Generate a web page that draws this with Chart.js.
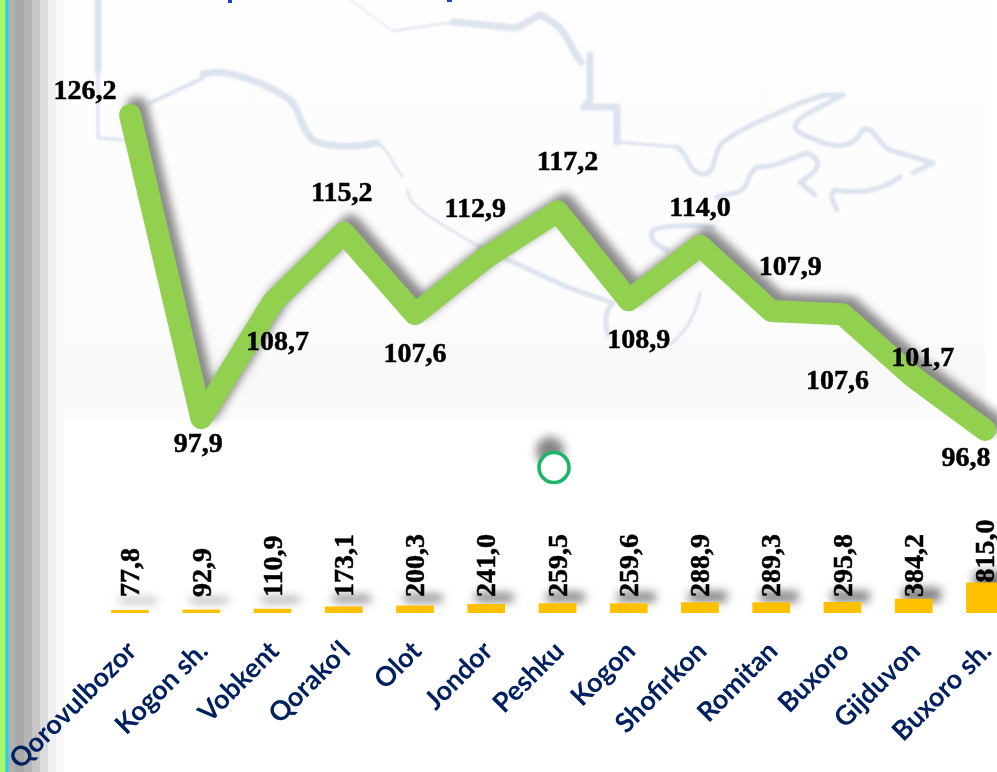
<!DOCTYPE html>
<html>
<head>
<meta charset="utf-8">
<script src="https://cdn.jsdelivr.net/npm/chart.js@4"></script>
<style>
html,body{margin:0;padding:0;width:997px;height:772px;overflow:hidden;background:#fff}
#stage{position:relative;width:997px;height:772px;overflow:hidden}
#panel{position:absolute;left:0;top:0;width:985px;height:421px;background:linear-gradient(180deg,#fdfdfe 0,#fcfcfd 320px,#f8f8f9 370px,#fbfbfb 421px)}
#strip{position:absolute;left:0;top:0;width:64px;height:772px;background:linear-gradient(90deg,#a6f56a 0,#a6f56a 5px,#22d3e8 6px,#22d3e8 8px,#a9b4b8 9px,#b0b0b0 10px,#b0b0b0 15px,#a8a8a8 15px,#a8a8a8 24px,#b4b4b4 24px,#b4b4b4 32px,#c6c6c6 32px,#c6c6c6 40px,#dcdcdc 40px,#dcdcdc 48px,#f0f0f0 48px,#f0f0f0 56px,#fafafa 56px,#fafafa 64px)}
svg{position:absolute;left:0;top:0}
canvas{position:absolute;left:0;top:0}
</style>
</head>
<body>
<div id="stage">
<div id="panel"></div>
<div id="strip"></div>
<svg width="997" height="772" viewBox="0 0 997 772" fill="none" stroke-linecap="round" stroke-linejoin="round">
<defs><filter id="b" x="-60%" y="-60%" width="220%" height="220%"><feGaussianBlur stdDeviation="5"/></filter>
<filter id="s"><feGaussianBlur stdDeviation="1"/></filter>
<filter id="t"><feGaussianBlur stdDeviation="0.6"/></filter></defs>
<g stroke="#dbe3ee" filter="url(#s)">
<path d="M98 0V70" stroke-width="7"/>
<path d="M98 70V138L127 140" stroke-width="3"/>
<path d="M150 103L203 78" stroke-width="4"/>
<path d="M203 74L217 72C240 74 270 85 290 100C302 112 298 125 313 140C325 147 350 148 377 143" stroke-width="7"/>
<path d="M377 143C388 148 392 165 403 177M407 190C410 205 420 212 480 247" stroke-width="2.5"/>
<path d="M480 247L567 287L613 303C604 312 605 325 608 335" stroke-width="5"/>
<path d="M350 0L393 31" stroke-width="1.5"/>
<path d="M393 31L454 22" stroke-width="2"/>
<path d="M454 22L516 28L540 15C555 22 565 30 572 48L581 62" stroke-width="7"/>
<path d="M590 55V100L584 107H617V142" stroke-width="7"/>
<path d="M617 142L677 147" stroke-width="3"/>
<path d="M677 147C690 155 688 175 705 174C716 172 712 155 722 143C740 128 775 115 800 103L825 95L843 95L805 115C790 125 792 132 812 138C835 150 855 148 862 130C875 125 875 142 890 150L933 163L913 173" stroke-width="5"/>
<path d="M807 153C790 158 775 168 757 167C745 175 750 188 738 192L717 197" stroke-width="5"/>
<path d="M807 153C825 160 818 172 800 182L815 195" stroke-width="5"/>
<path d="M900 177C885 188 865 195 835 190C828 195 835 205 837 210" stroke-width="5"/>
<path d="M713 227C690 225 665 225 653 230C648 238 655 245 667 250" stroke-width="5"/>
<path d="M700 293C695 318 685 332 670 345" stroke-width="3"/>
</g>
<ellipse cx="550" cy="451" rx="14" ry="14" fill="#666" opacity=".8" filter="url(#b)"/>
<circle cx="554" cy="467.5" r="15" fill="#fff" stroke="#1fb56b" stroke-width="3.6" filter="url(#t)"/>
<rect x="228" y="0" width="4" height="3" fill="#1a3fd0"/>
<rect x="447" y="0" width="5" height="2" fill="#1a3fd0"/>
</svg>
<canvas id="c" width="1040" height="772" style="width:1040px;height:772px"></canvas>
</div>
<script>
const categories = ["Qorovulbozor","Kogon sh.","Vobkent","Qorako\u2018l","Olot","Jondor","Peshku","Kogon","Shofirkon","Romitan","Buxoro","Gijduvon","Buxoro sh."];
const lineValues = [126.2,97.9,108.7,115.2,107.6,112.9,117.2,108.9,114.0,107.9,107.6,101.7,96.8];
const barValues = [77.8,92.9,110.9,173.1,200.3,241.0,259.5,259.6,288.9,289.3,295.8,384.2,815.0];
const lineLabelOffsets = [[-45,-23],[-3,27],[5,40],[-2,-39],[0,41],[-11,-48],[10,-49],[10,40],[0,-37],[19,-43],[-5,68],[9,-19],[-19,29]];
const fmt = v => v.toFixed(1).replace('.',',');
const labelFont = 'bold 28px "Liberation Serif"';

const shadowPlugin = {
  id:'shadowPlugin',
  beforeDatasetDraw(chart,args){
    const c=chart.ctx; c.save();
    if(args.index===0){c.shadowColor='rgba(0,0,0,.5)';c.shadowBlur=10;c.shadowOffsetX=8;c.shadowOffsetY=-11;}
    else{c.shadowColor='rgba(0,0,0,.45)';c.shadowBlur=9;c.shadowOffsetX=7;c.shadowOffsetY=-7;}
  },
  afterDatasetDraw(chart){chart.ctx.restore();}
};
const valueLabels = {
  id:'valueLabels',
  afterDatasetsDraw(chart){
    const c=chart.ctx, xS=chart.scales.x, yL=chart.scales.yLine, yB=chart.scales.yBar;
    c.save(); c.font=labelFont; c.fillStyle='#000'; c.strokeStyle='#000'; c.lineWidth=0.5;
    c.textAlign='center'; c.textBaseline='middle';
    lineValues.forEach((v,i)=>{
      const o=lineLabelOffsets[i];
      const x=xS.getPixelForValue(i)+o[0], y=yL.getPixelForValue(v)+o[1];
      c.fillText(fmt(v),x,y);
      c.strokeText(fmt(v),x,y);
    });
    const shelf=597;
    barValues.forEach((v,i)=>{
      const top=yB.getPixelForValue(v);
      c.save();
      c.translate(xS.getPixelForValue(i)+2,Math.min(top,shelf));
      c.rotate(-Math.PI/2);
      c.textAlign='left';
      c.fillText(fmt(v),0,0);
      c.strokeText(fmt(v),0,0);
      c.restore();
    });
    c.restore();
  }
};
new Chart(document.getElementById('c'),{
  data:{
    labels:categories,
    datasets:[
      {type:'bar',data:barValues,yAxisID:'yBar',backgroundColor:'#ffc000',barPercentage:0.53,categoryPercentage:1,order:2},
      {type:'line',data:lineValues,yAxisID:'yLine',borderColor:'#92d050',borderWidth:22,borderCapStyle:'round',borderJoinStyle:'round',tension:0,pointRadius:0,fill:false,clip:false,order:1}
    ]
  },
  options:{
    responsive:false,animation:false,devicePixelRatio:1,
    layout:{padding:{left:94.4,right:19.4,top:0,bottom:0}},
    plugins:{legend:{display:false},tooltip:{enabled:false},title:{display:false}},
    scales:{
      x:{
        grid:{display:false,drawTicks:false},border:{display:false},
        afterFit(s){s.height=159;s.paddingLeft=0;s.paddingRight=0;},
        ticks:{autoSkip:false,minRotation:45,maxRotation:45,padding:22,labelOffset:2,color:'#002060',font:{family:'Lato',weight:'bold',size:27}}
      },
      yLine:{display:false,min:79.7,max:136.94},
      yBar:{display:false,min:0,max:16390}
    }
  },
  plugins:[shadowPlugin,valueLabels]
});
</script>
</body>
</html>
